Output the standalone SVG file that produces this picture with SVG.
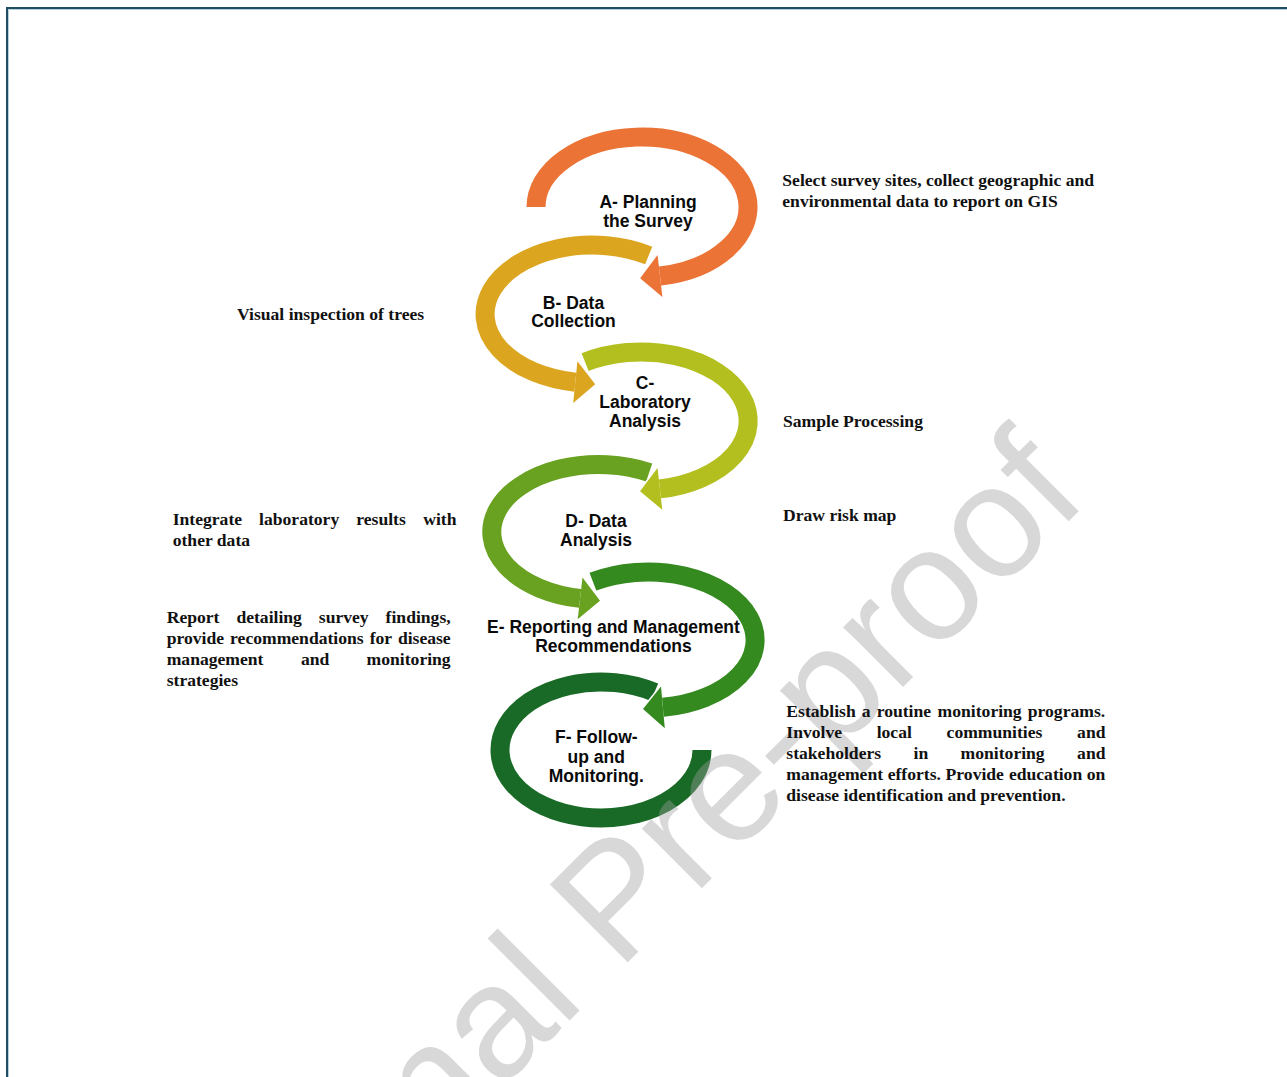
<svg xmlns="http://www.w3.org/2000/svg" width="1287" height="1077" viewBox="0 0 1287 1077">
<style>
.arc{fill:none;stroke-width:19;stroke-linecap:butt}
.ah{stroke:#fff;stroke-width:3;stroke-linejoin:miter}
.lbl{font-family:"Liberation Sans",Arial,sans-serif;font-weight:bold;font-size:17.5px;fill:#0a0a0a;text-anchor:middle}
.note{font-family:"Liberation Serif","Times New Roman",serif;font-weight:bold;font-size:17.6px;fill:#111}
.wm{font-family:"Liberation Sans",Arial,sans-serif;font-size:160px;fill:#a0a0a0;opacity:0.4}
</style>
<rect width="1287" height="1077" fill="#fff"/>
<g id="border">
<path d="M7 1077 V8 H1287" fill="none" stroke="#1e4c60" stroke-width="2"/>
<path d="M8.5 1077 V9.5 H1287" fill="none" stroke="#b8d0dc" stroke-width="1"/>
</g>
<g id="connectors"/>
<g id="node-F">
<path class="arc" stroke="#1a6a27" d="M654.5 692.3 A101 68 0 1 0 702 750"/>
</g>
<g id="node-E">
<polygon class="ah" fill="#358a1f" points="664.8,728.2 661,686.4 643,709.1"/>
<path class="arc" stroke="#358a1f" d="M592.9 581.7 A107 68 0 1 1 662.9 707.3"/>
<polygon fill="#358a1f" points="664.8,728.2 661,686.4 643,709.1"/>
</g>
<g id="node-D">
<polygon class="ah" fill="#69a121" points="577.7,619.3 582.5,577.5 600,600.7"/>
<path class="arc" stroke="#69a121" d="M649.2 472.4 A107 67.5 0 1 0 580.1 598.4"/>
<polygon fill="#69a121" points="577.7,619.3 582.5,577.5 600,600.7"/>
</g>
<g id="node-C">
<polygon class="ah" fill="#b3bf1e" points="662.3,509.8 657.5,468 640,491.2"/>
<path class="arc" stroke="#b3bf1e" d="M585.1 362.2 A107 69 0 1 1 659.9 488.9"/>
<polygon fill="#b3bf1e" points="662.3,509.8 657.5,468 640,491.2"/>
</g>
<g id="node-B">
<polygon class="ah" fill="#dba520" points="573.2,403.1 577.4,361.3 595.2,384.2"/>
<path class="arc" stroke="#dba520" d="M648.7 255.5 A107 69 0 1 0 575.3 382.2"/>
<polygon fill="#dba520" points="573.2,403.1 577.4,361.3 595.2,384.2"/>
</g>
<g id="node-A">
<polygon class="ah" fill="#eb7335" points="662.4,296.9 657.6,255.1 640.1,278.3"/>
<path class="arc" stroke="#eb7335" d="M536 207 A106 70 0 1 1 660 276"/>
<polygon fill="#eb7335" points="662.4,296.9 657.6,255.1 640.1,278.3"/>
</g>
<g id="watermark">
<text class="wm" x="216" y="1374" transform="rotate(-45 216 1374)">Journal Pre-proof</text>
</g>
<g id="labels">
<text class="lbl" x="648" y="208.3">A- Planning</text>
<text class="lbl" x="648" y="226.8">the Survey</text>
<text class="lbl" x="573.5" y="308.5">B- Data</text>
<text class="lbl" x="573.5" y="327">Collection</text>
<text class="lbl" x="645" y="388.5">C-</text>
<text class="lbl" x="645" y="407.8">Laboratory</text>
<text class="lbl" x="645" y="427">Analysis</text>
<text class="lbl" x="596" y="527.3">D- Data</text>
<text class="lbl" x="596" y="546">Analysis</text>
<text class="lbl" x="613.5" y="633.3">E- Reporting and Management</text>
<text class="lbl" x="613.5" y="651.8">Recommendations</text>
<text class="lbl" x="596.3" y="743.3">F- Follow-</text>
<text class="lbl" x="596.3" y="762.7">up and</text>
<text class="lbl" x="596.3" y="781.7">Monitoring.</text>
</g>
<g id="note-A">
<text class="note" x="782.3" y="185.7">Select survey sites, collect geographic and</text>
<text class="note" x="782.3" y="206.7">environmental data to report on GIS</text>
</g>
<g id="note-B">
<text class="note" x="237" y="320">Visual inspection of trees</text>
</g>
<g id="note-C">
<text class="note" x="783" y="427.3">Sample Processing</text>
</g>
<g id="note-D-left">
<text class="note" y="525"><tspan x="172.7">Integrate</tspan><tspan x="259.1">laboratory</tspan><tspan x="356.3">results</tspan><tspan x="423.2">with</tspan></text>
<text class="note" x="172.7" y="546">other data</text>
</g>
<g id="note-D-right">
<text class="note" x="783" y="520.7">Draw risk map</text>
</g>
<g id="note-E">
<text class="note" y="623.3"><tspan x="166.7">Report</tspan><tspan x="236.4">detailing</tspan><tspan x="318.8">survey</tspan><tspan x="385.6">findings,</tspan></text>
<text class="note" y="644.3"><tspan x="166.7">provide</tspan><tspan x="230.1">recommendations</tspan><tspan x="369.7">for</tspan><tspan x="397.9">disease</tspan></text>
<text class="note" y="665.2"><tspan x="166.7">management</tspan><tspan x="300.9">and</tspan><tspan x="366.6">monitoring</tspan></text>
<text class="note" x="166.7" y="686.2">strategies</text>
</g>
<g id="note-F">
<text class="note" y="717.4"><tspan x="786.3">Establish</tspan><tspan x="861.8">a</tspan><tspan x="876.7">routine</tspan><tspan x="937.6">monitoring</tspan><tspan x="1027.8">programs.</tspan></text>
<text class="note" y="738.3"><tspan x="786.3">Involve</tspan><tspan x="876.7">local</tspan><tspan x="946.6">communities</tspan><tspan x="1077.1">and</tspan></text>
<text class="note" y="759.2"><tspan x="786.3">stakeholders</tspan><tspan x="913.5">in</tspan><tspan x="960.6">monitoring</tspan><tspan x="1077.1">and</tspan></text>
<text class="note" y="780.1"><tspan x="786.3">management</tspan><tspan x="887.7">efforts.</tspan><tspan x="945.6">Provide</tspan><tspan x="1008.9">education</tspan><tspan x="1086.8">on</tspan></text>
<text class="note" x="786.3" y="800.9">disease identification and prevention.</text>
</g>
</svg>
